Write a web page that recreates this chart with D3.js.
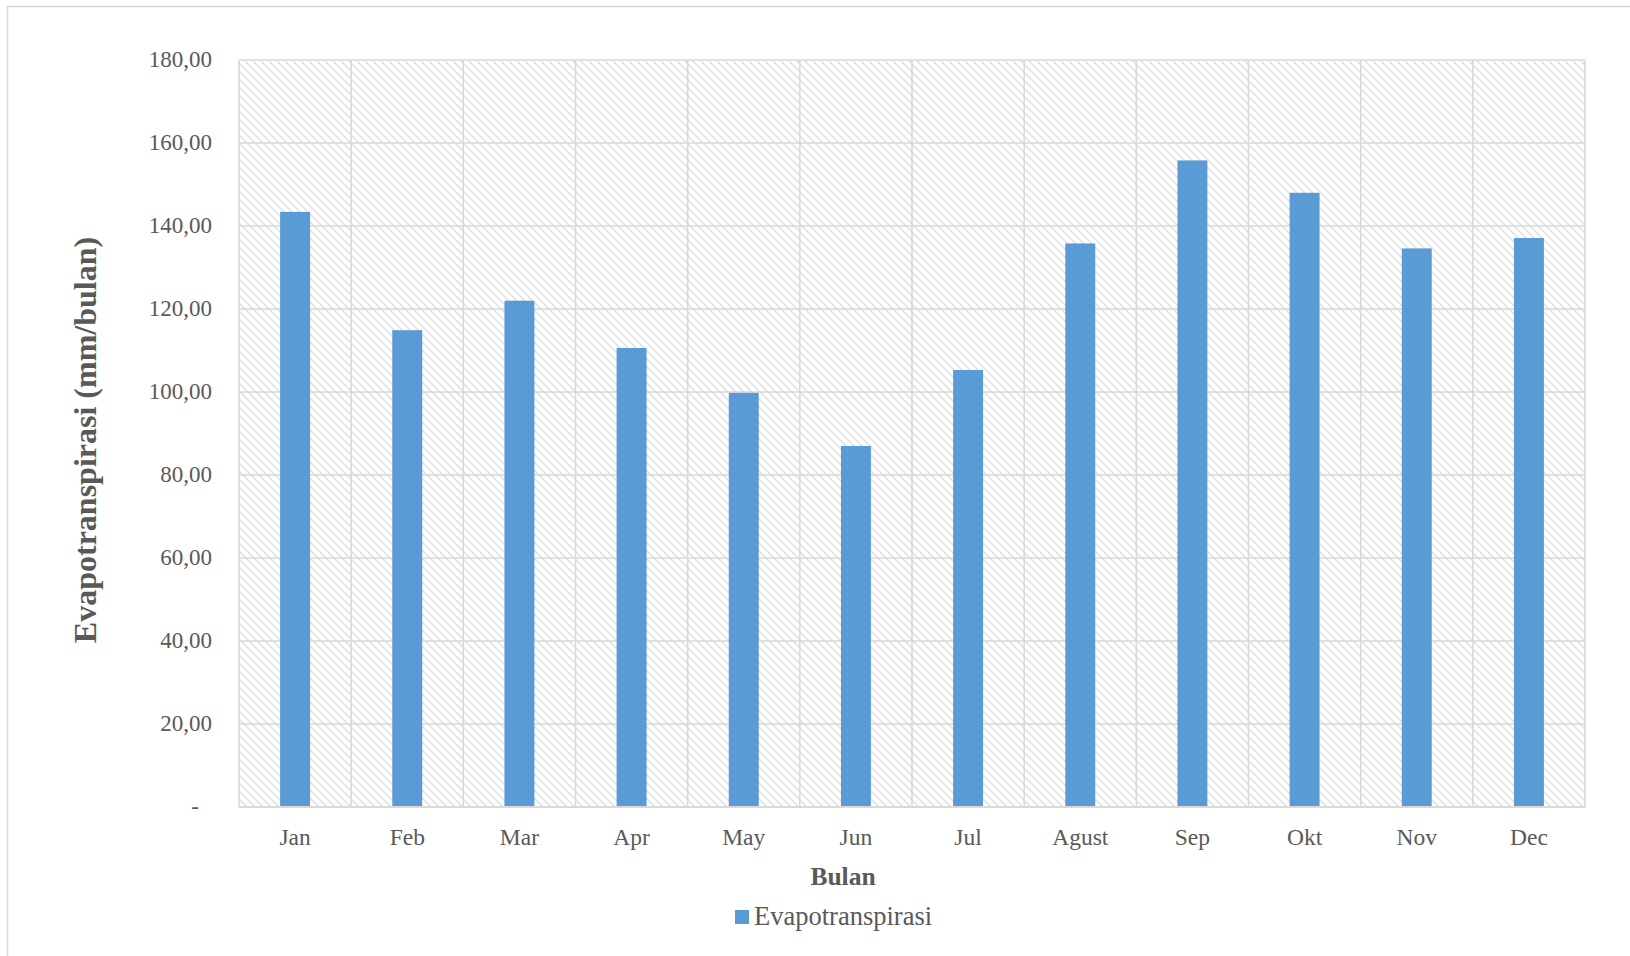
<!DOCTYPE html>
<html>
<head>
<meta charset="utf-8">
<script src="https://cdn.jsdelivr.net/npm/d3@7"></script>
<style>
  html, body { margin: 0; padding: 0; background: #ffffff; }
  svg { display: block; }
  text { font-family: "Liberation Serif", "Times New Roman", serif; fill: #595959; }
</style>
</head>
<body>
<svg id="chart" width="1630" height="956"></svg>
<script>
// Monthly evapotranspiration (mm/bulan)
const months = ["Jan", "Feb", "Mar", "Apr", "May", "Jun", "Jul", "Agust", "Sep", "Okt", "Nov", "Dec"];
const evapotranspirasi = [143.4, 114.9, 122.0, 110.6, 99.8, 87.0, 105.3, 135.8, 155.8, 148.0, 134.6, 137.1];
const yTicks = [0, 20, 40, 60, 80, 100, 120, 140, 160, 180];
const seriesName = "Evapotranspirasi";
const xTitle = "Bulan";
const yTitle = "Evapotranspirasi (mm/bulan)";

const svg = d3.select("#chart");
const W = 1630, H = 956;
const plot = { left: 239, right: 1585, top: 60, bottom: 807 };

const grid = "#d9d9d9";
const barColor = "#5b9bd5";

// Hatched plot background (downward diagonal)
const defs = svg.append("defs");
const pat = defs.append("pattern")
  .attr("id", "hatch")
  .attr("patternUnits", "userSpaceOnUse")
  .attr("width", 8).attr("height", 8);
pat.append("rect").attr("width", 8).attr("height", 8).attr("fill", "#ffffff");
pat.append("path")
  .attr("d", "M-2,-2 L10,10 M-2,6 L2,10 M6,-2 L10,2")
  .attr("stroke", "#dedede")
  .attr("stroke-width", 1.4);

// Outer chart border (extends past the page edges)
svg.append("rect")
  .attr("x", 7.5).attr("y", 6.5)
  .attr("width", W + 20).attr("height", H + 20)
  .attr("fill", "none").attr("stroke", grid).attr("stroke-width", 1.5);

const x = d3.scaleBand()
  .domain(months)
  .range([plot.left, plot.right])
  .padding(0);

const y = d3.scaleLinear()
  .domain([0, 180])
  .range([plot.bottom, plot.top]);

svg.append("rect")
  .attr("x", plot.left).attr("y", plot.top)
  .attr("width", plot.right - plot.left)
  .attr("height", plot.bottom - plot.top)
  .attr("fill", "url(#hatch)");

// Horizontal gridlines
svg.append("g")
  .selectAll("line")
  .data(yTicks)
  .join("line")
  .attr("x1", plot.left).attr("x2", plot.right)
  .attr("y1", d => y(d)).attr("y2", d => y(d))
  .attr("stroke", grid).attr("stroke-width", 1.6);

// Vertical gridlines at category boundaries
const bounds = months.map(m => x(m)).concat([plot.right]);
svg.append("g")
  .selectAll("line")
  .data(bounds)
  .join("line")
  .attr("x1", d => d).attr("x2", d => d)
  .attr("y1", plot.top).attr("y2", plot.bottom)
  .attr("stroke", grid).attr("stroke-width", 1.6);

// Bars
const barW = x.bandwidth() * 0.267;
svg.append("g")
  .selectAll("rect")
  .data(months.map((m, i) => ({ m, v: evapotranspirasi[i] })))
  .join("rect")
  .attr("x", d => x(d.m) + x.bandwidth() / 2 - barW / 2)
  .attr("y", d => y(d.v))
  .attr("width", barW)
  .attr("height", d => y(0) - y(d.v))
  .attr("fill", barColor);

// Axis baseline
svg.append("line")
  .attr("x1", plot.left).attr("x2", plot.right)
  .attr("y1", plot.bottom).attr("y2", plot.bottom)
  .attr("stroke", grid).attr("stroke-width", 2);

// Y axis labels
const fmt = v => v === 0 ? "-" : d3.format(".2f")(v).replace(".", ",");
const yAxis = d3.axisLeft(y).tickValues(yTicks).tickFormat(fmt).tickSize(0).tickPadding(27);
const gy = svg.append("g").attr("transform", `translate(${plot.left},0)`).call(yAxis);
gy.select(".domain").remove();
gy.selectAll("text")
  .attr("font-family", "Liberation Serif, Times New Roman, serif")
  .attr("font-size", 23)
  .attr("fill", "#595959")
  .attr("dy", "0.28em")
  .attr("dx", d => d === 0 ? -13 : 0);

// X axis labels
const xAxis = d3.axisBottom(x).tickSize(0).tickPadding(21);
const gx = svg.append("g").attr("transform", `translate(0,${plot.bottom})`).call(xAxis);
gx.select(".domain").remove();
gx.selectAll("text")
  .attr("font-family", "Liberation Serif, Times New Roman, serif")
  .attr("font-size", 23.5)
  .attr("fill", "#595959");

// Axis titles
svg.append("text")
  .attr("x", 843).attr("y", 885)
  .attr("text-anchor", "middle")
  .attr("font-size", 25.5).attr("font-weight", "bold")
  .text(xTitle);

svg.append("text")
  .attr("transform", "translate(96,440) rotate(-90)")
  .attr("text-anchor", "middle")
  .attr("font-size", 32).attr("font-weight", "bold")
  .text(yTitle);

// Legend
const lg = svg.append("g");
lg.append("rect")
  .attr("x", 735).attr("y", 910).attr("width", 14).attr("height", 14)
  .attr("fill", barColor);
lg.append("text")
  .attr("x", 754).attr("y", 925)
  .attr("font-size", 26.5)
  .text(seriesName);
</script>
</body>
</html>
